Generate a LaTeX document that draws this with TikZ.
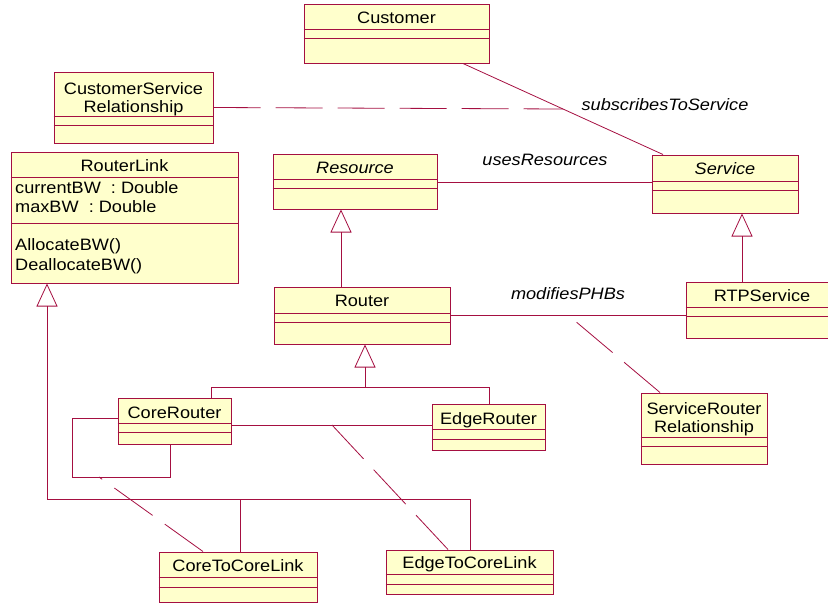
\documentclass[tikz,border=0pt]{standalone}
\usepackage{fontspec}
\setmainfont{Liberation Sans}[FakeStretch=1.1]
\usetikzlibrary{arrows.meta,calc}
\definecolor{umlline}{RGB}{165,15,65}
\definecolor{umlfill}{RGB}{255,255,204}
\newcommand\umlfont{\fontsize{16.5}{18}\selectfont}
% #1 name, #2 x1, #3 y1, #4 x2, #5 y2, #6 first separator y, #7 second separator y
\newcommand\umlbox[7]{%
  \node[cls, minimum width={(#4-#2)*1pt}, minimum height={(#5-#3)*1pt}] (#1) at ({(#2+#4)/2},{(#3+#5)/2}) {};
  \draw[cmp] (#1.west |- 0,#6) -- (#1.east |- 0,#6);
  \draw[cmp] (#1.west |- 0,#7) -- (#1.east |- 0,#7);
}
\begin{document}
\begin{tikzpicture}[x=1pt,y=-1pt,
  cls/.style={draw=umlline, fill=umlfill, line width=1pt, rectangle, inner sep=0pt},
  cmp/.style={draw=umlline, line width=0.9pt},
  conn/.style={draw=umlline, line width=0.8pt},
  dashconn/.style={conn, dash pattern=on 47pt off 15pt},
  gen/.style={conn, -{Triangle[open, width=21pt, length=23pt, line width=0.8pt]}},
  lbl/.style={inner sep=0pt, anchor=base, font=\umlfont},
  ilbl/.style={inner sep=0pt, anchor=base, font={\umlfont\itshape}},
  mlbl/.style={inner sep=0pt, anchor=north, align=center, font=\umlfont},
]
\clip (0,0) rectangle (828,603);

% classes
\umlbox{customer}{304}{4}{489}{63}{29}{38}
\umlbox{csr}{54}{72}{213}{143}{116}{125}
\umlbox{routerlink}{11}{152}{238}{283}{177}{223}
\umlbox{resource}{273}{154}{437}{209}{179}{188}
\umlbox{service}{652}{155}{798}{213}{181}{190}
\umlbox{router}{274}{287}{450}{344}{313}{322}
\umlbox{rtp}{686}{282}{838}{338}{307}{316}
\umlbox{corerouter}{118}{398}{231}{444}{423}{432}
\umlbox{edgerouter}{432}{404}{545}{450}{429}{439}
\umlbox{srr}{641}{393}{767}{464}{437}{446}
\umlbox{ctc}{159}{552}{317}{602}{577}{587}
\umlbox{etc}{386}{550}{553}{594}{574}{584}

% class texts
\node[lbl] (customer-t) at (396.5,23) {Customer};
\node[mlbl] (csr-t) at (133.5,82) {CustomerService\\Relationship};
\node[lbl] (routerlink-t) at (124.5,171) {RouterLink};
\node[lbl, anchor=base west] (rl-a1) at (15,193.5) {currentBW~ : Double};
\node[lbl, anchor=base west] (rl-a2) at (15,212) {maxBW~ : Double};
\node[lbl, anchor=base west] (rl-o1) at (15,250) {AllocateBW()};
\node[lbl, anchor=base west] (rl-o2) at (15,270) {DeallocateBW()};
\node[ilbl] (resource-t) at (355,173.5) {Resource};
\node[ilbl] (service-t) at (725,174) {Service};
\node[lbl] (router-t) at (362,306.5) {Router};
\node[lbl] (rtp-t) at (762,301) {RTPService};
\node[lbl] (corerouter-t) at (174.5,418.5) {CoreRouter};
\node[lbl] (edgerouter-t) at (488.5,424) {EdgeRouter};
\node[mlbl] (srr-t) at (704,402) {ServiceRouter\\Relationship};
\node[lbl] (ctc-t) at (238,571) {CoreToCoreLink};
\node[lbl] (etc-t) at (469.5,568.5) {EdgeToCoreLink};

% association labels
\node[ilbl] (subs-l) at (665,110) {subscribesToService};
\node[ilbl] (uses-l) at (545,165) {usesResources};
\node[ilbl] (mod-l) at (568,299) {modifiesPHBs};

% Customer -- Service with association class
\coordinate (cs1) at (customer.south -| 463,0);
\coordinate (cs2) at (service.north -| 663,0);
\draw[conn] (cs1) -- (cs2);
\coordinate (csa) at ($(cs1)!0.5!(cs2)$);
\draw[dashconn] (csr.east) -- (csa);

% usesResources
\draw[conn] (resource.east |- 0,182) -- (service.west |- 0,182);

% generalizations
\draw[gen] (router.north -| 341,0) -- (resource.south -| 341,0);
\draw[gen] (rtp.north -| 742,0) -- (service.south -| 742,0);
\coordinate (rj) at (365,387);
\draw[conn] (corerouter.north -| 211,0) -- (211,387) -- (489,387) -- (edgerouter.north -| 489,0);
\draw[gen] (rj) -- (router.south -| rj);
\coordinate (lj) at (47,499);
\draw[gen] (lj) -- (routerlink.south -| lj);
\draw[conn] (lj) -- (470,499) -- (etc.north -| 470,0);
\draw[conn] (240,499) -- (ctc.north -| 240,0);

% modifiesPHBs with association class
\draw[conn] (router.east |- 0,315) -- (rtp.west |- 0,315);
\coordinate (rra) at (568,315);
\draw[dashconn] (srr.north -| 660,0) -- (rra);

% CoreRouter self association with association class
\draw[conn] (corerouter.west |- 0,418) -| (72,477) -| (corerouter.south -| 170,0);
\coordinate (selfa) at (99,477);
\draw[dashconn] (ctc.north -| 203,0) -- (selfa);

% CoreRouter -- EdgeRouter with association class
\draw[conn] (corerouter.east |- 0,425) -- (edgerouter.west |- 0,425);
\coordinate (cea) at (332,425);
\draw[dashconn] (etc.north -| 448,0) -- (cea);
\end{tikzpicture}
\end{document}
